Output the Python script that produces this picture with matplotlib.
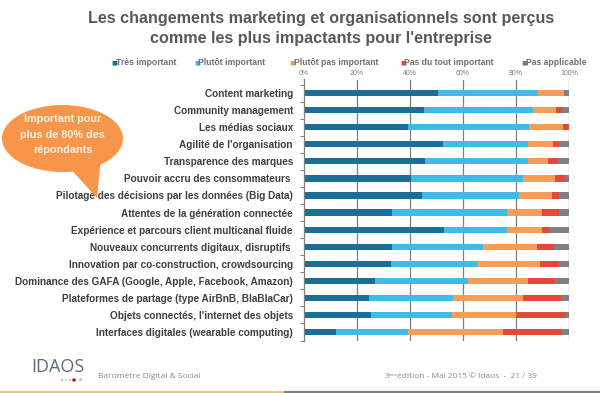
import matplotlib
matplotlib.use("Agg")
import matplotlib.pyplot as plt
from matplotlib.patches import Ellipse, Polygon
import numpy as np

categories = [
    "Content marketing",
    "Community management",
    "Les médias sociaux",
    "Agilité de l'organisation",
    "Transparence des marques",
    "Pouvoir accru des consommateurs ",
    "Pilotage des décisions par les données (Big Data)",
    "Attentes de la génération connectée",
    "Expérience et parcours client multicanal fluide",
    "Nouveaux concurrents digitaux, disruptifs ",
    "Innovation par co-construction, crowdsourcing",
    "Dominance des GAFA (Google, Apple, Facebook, Amazon)",
    "Plateformes de partage (type AirBnB, BlaBlaCar)",
    "Objets connectés, l'internet des objets",
    "Interfaces digitales (wearable computing)",
]
series_names = ["Très important", "Plutôt important", "Plutôt pas important",
                "Pas du tout important", "Pas applicable"]
tres_important = [50.4, 45.4, 39.4, 52.3, 45.7, 40.3, 44.7, 33.3, 52.9, 33.3, 32.8, 26.8, 24.7, 25.2, 12.0]
plutot_important = [38.0, 41.1, 45.6, 32.4, 39.0, 42.5, 36.4, 43.4, 23.8, 34.1, 32.7, 35.2, 31.4, 30.5, 27.4]
plutot_pas = [9.8, 8.6, 12.6, 9.4, 7.5, 11.9, 12.4, 13.0, 13.0, 20.7, 23.6, 22.4, 26.4, 24.3, 35.8]
pas_du_tout = [0.0, 2.3, 2.4, 2.2, 3.5, 3.8, 2.8, 6.6, 2.9, 6.4, 7.1, 10.3, 14.5, 18.7, 22.3]
pas_applicable = [1.8, 2.6, 0.0, 3.7, 4.3, 1.5, 3.7, 3.7, 7.4, 5.5, 3.8, 5.3, 3.0, 1.3, 2.5]
series = [tres_important, plutot_important, plutot_pas, pas_du_tout, pas_applicable]
colors = ["#1B6E95", "#40BAE8", "#F89D55", "#E6473B", "#808080"]
xticks = [0, 20, 40, 60, 80, 100]
xticklabels = ["0%", "20%", "40%", "60%", "80%", "100%"]

W, H = 600, 393
fig = plt.figure(figsize=(W / 100, H / 100), dpi=100)
plt.rcParams['font.family'] = ['Liberation Sans', 'DejaVu Sans']

def fx(x):
    return x / W

def fy(y):
    return 1 - y / H

# axes
ax = fig.add_axes([fx(304), fy(340.5), (569 - 304) / W, (340.5 - 79.5) / H])
y = np.arange(len(categories))
left = np.zeros(len(categories))
for vals, col, name in zip(series, colors, series_names):
    v = np.array(vals)
    ax.barh(y, v, left=left, height=0.36, color=col, label=name, zorder=2, linewidth=0)
    left += v
ax.set_xlim(0, 100)
ax.set_ylim(14.5, -0.8)
ax.set_yticks(y)
ax.set_yticklabels(categories, fontsize=7.2, fontweight='bold', color='#3F3F3F')
ax.set_yticks(np.arange(-0.5, 15, 1), minor=True)
ax.tick_params(axis='y', which='major', length=0, pad=8)
ax.tick_params(axis='y', which='minor', length=3, color='#808080', width=0.8)
ax.xaxis.tick_top()
ax.set_xticks(xticks)
ax.set_xticklabels(xticklabels, fontsize=5, color='#7F7F7F')
ax.tick_params(axis='x', length=0, pad=2)
for t in xticks[1:]:
    ax.axvline(t, color='#7F7F7F', linewidth=0.9, zorder=1)
for s in ['top', 'right', 'bottom']:
    ax.spines[s].set_visible(False)
ax.spines['left'].set_color('#7F7F7F')
ax.spines['left'].set_linewidth(0.9)

# title
fig.text(fx(321), fy(18), "Les changements marketing et organisationnels sont perçus",
         ha='center', va='center', fontsize=11.6, fontweight='bold', color='#595959')
fig.text(fx(321), fy(38), "comme les plus impactants pour l'entreprise",
         ha='center', va='center', fontsize=11.6, fontweight='bold', color='#595959')

# legend
leg_x = [111, 194, 289, 400, 521]
for lx, name, col in zip(leg_x, series_names, colors):
    fig.text(fx(lx), fy(62.5), "■", ha='left', va='center', fontsize=4.5, color=col,
             family='DejaVu Sans')
    fig.text(fx(lx + 4.5), fy(62.5), name, ha='left', va='center', fontsize=6.2,
             fontweight='bold', color='#707070')

# speech bubble
bubble_col = "#F7964A"
ell = Ellipse((fx(62.5), fy(138.5)), 121 / W, 67 / H, transform=fig.transFigure,
              facecolor=bubble_col, edgecolor='none', zorder=5)
fig.add_artist(ell)
tail = Polygon([(fx(68), fy(166)), (fx(97), fy(198)), (fx(101), fy(157))],
               closed=True, transform=fig.transFigure, facecolor=bubble_col,
               edgecolor='none', zorder=5)
fig.add_artist(tail)
for ty, txt in zip([119, 135, 150.5], ["Important pour", "plus de 80% des", "répondants"]):
    fig.text(fx(62.5), fy(ty), txt, ha='center', va='center', fontsize=7.8,
             fontweight='bold', color='#FDF1E6', zorder=6)

# footer
fig.text(fx(31), fy(367), "IDAOS", ha='left', va='center', fontsize=13,
         color='#5E6B78', family='Open Sans')
for dx, dc, ds in [(62, '#C0504D', 1.5), (66, '#9BA5B0', 1.5), (70, '#C0504D', 1.5), (74, '#9E1B32', 3.5)]:
    fig.add_artist(Ellipse((fx(dx), fy(380)), ds / W, ds / H, transform=fig.transFigure,
                           facecolor=dc, edgecolor='none'))
fig.text(fx(79), fy(380), "AO", ha='left', va='center', fontsize=2.5, color='#9BA5B0')
fig.text(fx(98), fy(377), "Baromètre Digital & Social", ha='left', va='center',
         fontsize=6, color='#8A8A8A', family='Open Sans')
fig.text(fx(385), fy(377), "3", ha='left', va='center', fontsize=6, color='#8A8A8A',
         family='Open Sans')
fig.text(fx(388.8), fy(375), "ème", ha='left', va='center', fontsize=3.2, color='#8A8A8A',
         family='Open Sans')
fig.text(fx(397), fy(377), "édition - Mai 2015 © Idaos  -  21 / 39", ha='left', va='center',
         fontsize=6, color='#8A8A8A', family='Open Sans')
fig.add_artist(plt.Line2D([0, fx(285)], [fy(391.5), fy(391.5)], transform=fig.transFigure,
                          color='#E3C77E', linewidth=1.5))
fig.add_artist(plt.Line2D([fx(285), 1], [fy(391.5), fy(391.5)], transform=fig.transFigure,
                          color='#7F7F7F', linewidth=1.5))

fig.savefig("out.png", dpi=100)
